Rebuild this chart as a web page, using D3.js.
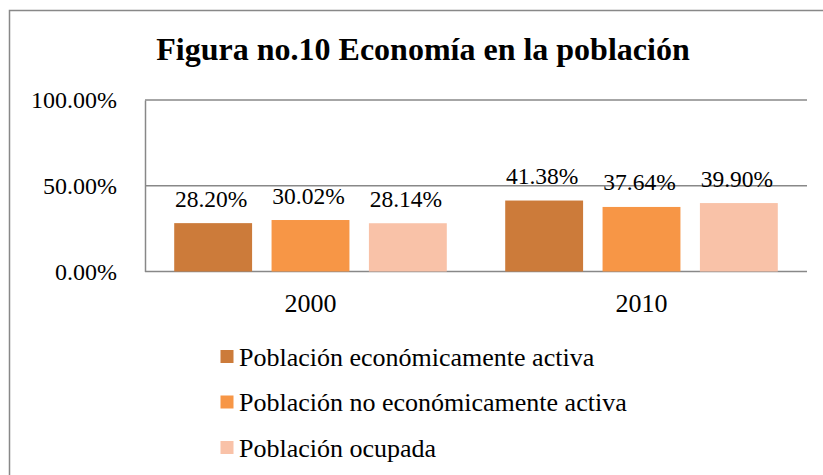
<!DOCTYPE html>
<html>
<head>
<meta charset="utf-8">
<script src="https://cdn.jsdelivr.net/npm/d3@7"></script>
<style>
  html, body { margin: 0; padding: 0; background: #fff; }
  svg { display: block; }
  text { font-family: "Liberation Serif", "Times New Roman", serif; fill: #000; }
</style>
</head>
<body>
<svg id="chart" width="823" height="475"></svg>
<script>
const title = "Figura no.10 Economía en la población";
const categories = ["2000", "2010"];
const seriesNames = [
  "Población económicamente activa",
  "Población no económicamente activa",
  "Población ocupada"
];
const seriesColors = ["#CC7B3A", "#F79646", "#F9C2A8"];
const values2000 = [28.20, 30.02, 28.14];
const values2010 = [41.38, 37.64, 39.90];
const yTicks = [0, 50, 100];

const svg = d3.select("#chart");
const W = 823, H = 475;
const plot = { left: 145, right: 807, top: 100, bottom: 271.5 };

// outer frame
svg.append("rect")
  .attr("x", 9.5).attr("y", 10.5)
  .attr("width", 900).attr("height", 600)
  .attr("fill", "none").attr("stroke", "#888").attr("stroke-width", 1.5);

// title
svg.append("text")
  .attr("x", 423).attr("y", 60)
  .attr("text-anchor", "middle")
  .attr("font-size", 32).attr("font-weight", "bold")
  .text(title);

const y = d3.scaleLinear().domain([0, 100]).range([plot.bottom, plot.top]);
const x0 = d3.scaleBand().domain(categories).range([plot.left, plot.right]).paddingInner(0).paddingOuter(0);
const x1 = d3.scaleBand().domain(seriesNames).range([0, x0.bandwidth()]).paddingInner(0.2).paddingOuter(0.3);

// gridlines
svg.append("g").selectAll("line").data(yTicks).join("line")
  .attr("x1", plot.left).attr("x2", plot.right)
  .attr("y1", d => y(d)).attr("y2", d => y(d))
  .attr("stroke", "#888").attr("stroke-width", 1.5);

// y axis
const yAxis = d3.axisLeft(y).tickValues(yTicks).tickSize(0).tickPadding(28)
  .tickFormat(d => d.toFixed(2) + "%");
const yg = svg.append("g").attr("transform", `translate(${plot.left},0)`).call(yAxis);
yg.select(".domain").attr("stroke", "#888").attr("stroke-width", 1.5);
yg.selectAll("text").attr("font-size", 24)
  .attr("font-family", "Liberation Serif, Times New Roman, serif").attr("dy", "0.32em");

// x axis labels
const xAxis = d3.axisBottom(x0).tickSize(0).tickPadding(22);
const xg = svg.append("g").attr("transform", `translate(0,${plot.bottom})`).call(xAxis);
xg.select(".domain").remove();
xg.selectAll("text").attr("font-size", 26)
  .attr("font-family", "Liberation Serif, Times New Roman, serif");

const rows = categories.map((c, i) => ({ cat: c, vals: [values2000, values2010][i] }));

const groups = svg.append("g").selectAll("g").data(rows).join("g")
  .attr("transform", d => `translate(${x0(d.cat)},0)`);

groups.selectAll("rect").data(d => d.vals.map((v, j) => ({ name: seriesNames[j], v, j })))
  .join("rect")
  .attr("x", d => x1(d.name))
  .attr("width", x1.bandwidth())
  .attr("y", d => y(d.v))
  .attr("height", d => y(0) - y(d.v))
  .attr("fill", d => seriesColors[d.j]);

groups.selectAll("text.lbl").data(d => d.vals.map((v, j) => ({ name: seriesNames[j], v, j })))
  .join("text").attr("class", "lbl")
  .attr("x", d => x1(d.name) + x1.bandwidth() / 2 - 2)
  .attr("y", d => y(d.v) - 16.5)
  .attr("text-anchor", "middle")
  .attr("font-size", 23.5)
  .text(d => d.v.toFixed(2) + "%");

// legend
const lg = svg.append("g").selectAll("g").data(seriesNames).join("g")
  .attr("transform", (d, i) => `translate(220.5,${350 + i * 45.5})`);
lg.append("rect").attr("width", 13).attr("height", 13)
  .attr("fill", (d, i) => seriesColors[i]);
lg.append("text").attr("x", 18.5).attr("y", 15.5)
  .attr("font-size", 26).text(d => d);
</script>
</body>
</html>
